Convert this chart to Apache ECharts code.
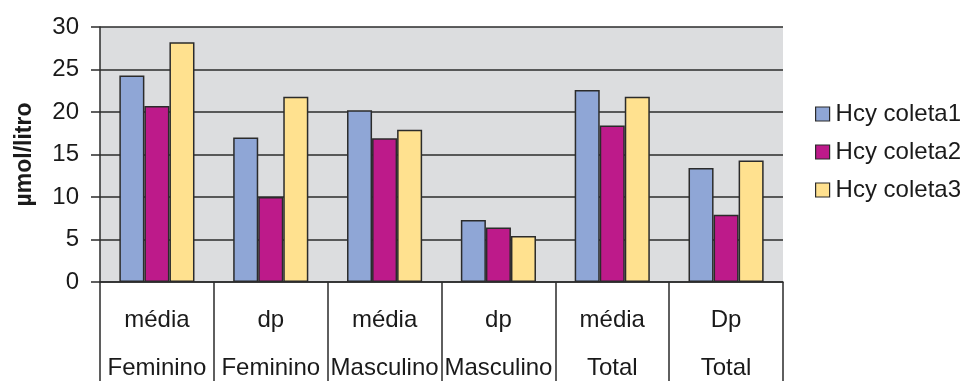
<!DOCTYPE html>
<html>
<head>
<meta charset="utf-8">
<script src="https://cdn.jsdelivr.net/npm/echarts@6/dist/echarts.min.js"></script>
<style>
  html, body { margin: 0; padding: 0; background: #fff; }
  #chart { width: 965px; height: 381px; }
</style>
</head>
<body>
<div id="chart"></div>
<script>
// Grupos (estatística + sexo) e médias de homocisteína por coleta
const categories = [
  'média\nFeminino', 'dp\nFeminino', 'média\nMasculino',
  'dp\nMasculino', 'média\nTotal', 'Dp\nTotal'
];
const seriesNames = ['Hcy coleta1', 'Hcy coleta2', 'Hcy coleta3'];
const coleta1 = [24.3, 17.0, 20.2, 7.3, 22.6, 13.4];
const coleta2 = [20.7, 10.0, 16.9, 6.4, 18.4, 7.9];
const coleta3 = [28.2, 21.8, 17.9, 5.4, 21.8, 14.3];
const yTicks = { min: 0, max: 30, interval: 5 };

const colors = ['#8FA6D6', '#BD1A8A', '#FFE18F'];
const ink = '#2b2b2b';
const font = 'Liberation Sans, Arial, sans-serif';

const chart = echarts.init(document.getElementById('chart'), null, { renderer: 'canvas' });

const values = [coleta1, coleta2, coleta3];

chart.setOption({
  animation: false,
  backgroundColor: '#ffffff',
  grid: {
    left: 100, right: 182, top: 27, bottom: 99,
    show: true, backgroundColor: '#DCDDDF', borderWidth: 0,
    containLabel: false,
    outerBoundsMode: 'none'
  },
  legend: {
    orient: 'vertical',
    left: 810, top: 97,
    itemWidth: 14, itemHeight: 14, itemGap: 14,
    icon: 'rect',
    itemStyle: { borderColor: ink, borderWidth: 1.2 },
    textStyle: { fontFamily: font, fontSize: 24, color: '#1a1a1a', padding: [0, 0, 0, 1] },
    data: seriesNames
  },
  xAxis: {
    type: 'category',
    data: categories,
    boundaryGap: true,
    axisLine: { show: true, lineStyle: { color: ink, width: 1.5 } },
    axisTick: { show: true, inside: false, length: 100, interval: 0, lineStyle: { color: ink, width: 1.5 } },
    axisLabel: {
      interval: 0, margin: 14,
      fontFamily: font, fontSize: 24, color: '#1a1a1a',
      lineHeight: 48
    },
    splitLine: { show: false }
  },
  yAxis: {
    type: 'value',
    min: yTicks.min, max: yTicks.max, interval: yTicks.interval,
    name: 'µmol/litro',
    nameLocation: 'middle',
    nameGap: 64,
    nameRotate: 90,
    nameTextStyle: { fontFamily: font, fontSize: 23, fontWeight: 'bold', color: '#1a1a1a' },
    axisLine: { show: true, lineStyle: { color: ink, width: 1.5 } },
    axisTick: { show: true, inside: false, length: 9, lineStyle: { color: ink, width: 1.5 } },
    axisLabel: { margin: 21, fontFamily: font, fontSize: 24, color: '#1a1a1a' },
    splitLine: { show: true, lineStyle: { color: ink, width: 1.5 } }
  },
  series: seriesNames.map((name, i) => ({
    name,
    type: 'bar',
    data: values[i],
    barGap: '0%',
    barCategoryGap: '34%',
    itemStyle: { color: colors[i], borderColor: ink, borderWidth: 1.5 }
  }))
});
</script>
</body>
</html>
